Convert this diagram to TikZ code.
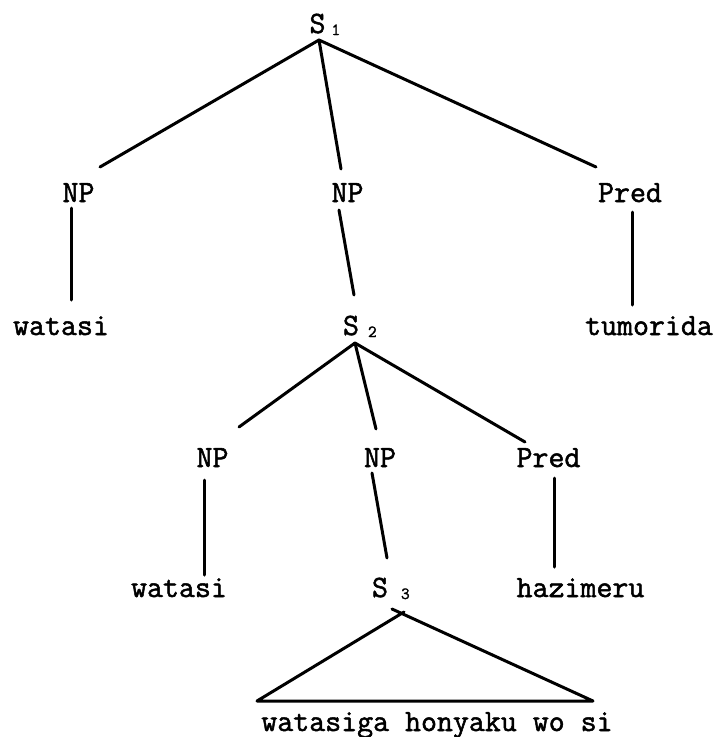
\documentclass[tikz,border=0pt]{standalone}
\usepackage{fontspec}
\newfontfamily\twfont{Latin Modern Mono}[FakeBold=1.6]
\newcommand\subidx[2]{\rlap{\kern#1pt\raisebox{-2pt}{\fontsize{17}{17}\selectfont #2}}}
\begin{document}
\begin{tikzpicture}[x=1pt,y=-1pt,
  lbl/.style={font=\twfont\fontsize{31}{31}\selectfont, inner sep=0pt, anchor=base},
  branch/.style={line width=3pt, line cap=round, line join=round}]
\useasboundingbox (0,0) rectangle (720,737);

% --- labels ---
\node[lbl] (s1)   at (317.5,33) {S\subidx{6}{1}};
\node[lbl] (np1)  at (78.5,202) {NP};
\node[lbl] (np2)  at (347.5,202) {NP};
\node[lbl] (pr1)  at (630,202) {Pred};
\node[lbl] (w1)   at (61,335) {watasi};
\node[lbl] (s2)   at (351,335) {S\subidx{9}{2}};
\node[lbl] (tum)  at (649,335) {tumorida};
\node[lbl] (np3)  at (212.5,467) {NP};
\node[lbl] (np4)  at (380,467) {NP};
\node[lbl] (pr2)  at (548.5,467) {Pred};
\node[lbl] (w2)   at (179,597) {watasi};
\node[lbl] (s3)   at (380,597) {S\subidx{13}{3}};
\node[lbl] (haz)  at (580.5,597) {hazimeru};
\node[lbl] (emb)  at (437,731) {watasiga honyaku wo si};

% --- branch end points ---
\coordinate (s1a)  at (319,40);
\coordinate (np1t) at (100,167);
\coordinate (np2t) at (341,169);
\coordinate (pr1t) at (596,167);
\coordinate (np1b) at (71,208);
\coordinate (w1t)  at (71,300);
\coordinate (np2b) at (339,210);
\coordinate (s2t)  at (354,295);
\coordinate (pr1b) at (632,212);
\coordinate (tumt) at (632,305);
\coordinate (s2a)  at (355,343);
\coordinate (np3t) at (239,427);
\coordinate (np4t) at (376,429);
\coordinate (pr2t) at (525,442);
\coordinate (np3b) at (204,480);
\coordinate (w2t)  at (204,575);
\coordinate (np4b) at (372,473);
\coordinate (s3t)  at (387,558);
\coordinate (pr2b) at (554,478);
\coordinate (hazt) at (554,567);
\coordinate (s3l)  at (404,612);
\coordinate (s3r)  at (392,609);
\coordinate (embl) at (257,701);
\coordinate (embr) at (593,701);

% --- S1 ---
\draw[branch] (s1a) -- (np1t);
\draw[branch] (s1a) -- (np2t);
\draw[branch] (s1a) -- (pr1t);
\draw[branch] (np1b) -- (w1t);
\draw[branch] (np2b) -- (s2t);
\draw[branch] (pr1b) -- (tumt);

% --- S2 ---
\draw[branch] (s2a) -- (np3t);
\draw[branch] (s2a) -- (np4t);
\draw[branch] (s2a) -- (pr2t);
\draw[branch] (np3b) -- (w2t);
\draw[branch] (np4b) -- (s3t);
\draw[branch] (pr2b) -- (hazt);

% --- S3 triangle ---
\draw[branch] (s3l) -- (embl) -- (embr) -- (s3r);
\end{tikzpicture}
\end{document}
